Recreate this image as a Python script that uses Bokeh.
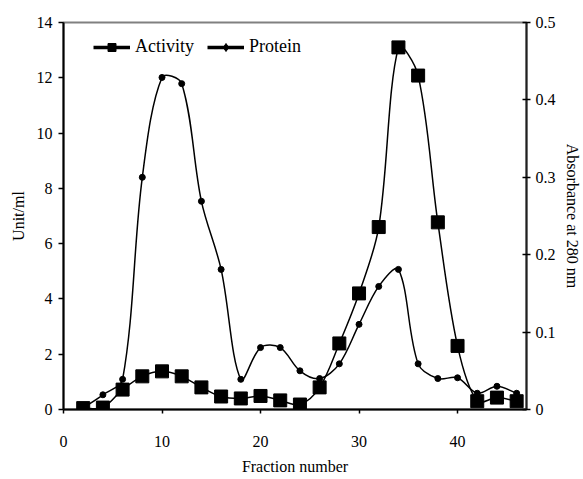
import math
from bokeh.plotting import figure
from bokeh.models import (Range1d, LinearAxis, FixedTicker, NumeralTickFormatter,
                          Legend, LegendItem, ColumnDataSource)
from bokeh.embed import file_html
from bokeh.resources import INLINE

# ---- data ----
fractions = [2, 4, 6, 8, 10, 12, 14, 16, 18, 20, 22, 24, 26, 28, 30, 32, 34, 36, 38, 40, 42, 44, 46]
activity = [0.05, 0.07, 0.72, 1.2, 1.38, 1.2, 0.8, 0.47, 0.4, 0.49, 0.33, 0.18,
            0.8, 2.39, 4.2, 6.6, 13.1, 12.08, 6.77, 2.3, 0.3, 0.43, 0.3]
protein = [0.002, 0.019, 0.039, 0.30, 0.429, 0.421, 0.269, 0.181, 0.039, 0.08, 0.08, 0.05,
           0.04, 0.059, 0.11, 0.159, 0.181, 0.059, 0.04, 0.041, 0.021, 0.03, 0.021]
x_ticks = [0, 10, 20, 30, 40]
left_ticks = [0, 2, 4, 6, 8, 10, 12, 14]
right_ticks = [0, 0.1, 0.2, 0.3, 0.4, 0.5]

FONT = "Liberation Serif"

W, H = 583, 479
BL, BR, BT, BB = 63, 55, 22, 70
FRAME_W = W - BL - BR
FRAME_H = H - BT - BB
X_MAX, Y_MAX, ABS_MAX = 47, 14, 0.5


def smooth_segments(xs, ys, sx, sy, t=1.0 / 3.0):
    """Bezier segments with length-weighted tangents (Excel-like smoothing)."""
    n = len(xs)
    d = dict(x0=[], y0=[], x1=[], y1=[], cx0=[], cy0=[], cx1=[], cy1=[])

    def dist(a, b):
        return math.hypot((xs[b] - xs[a]) * sx, (ys[b] - ys[a]) * sy)

    for i in range(n - 1):
        i0, i1, i2, i3 = max(i - 1, 0), i, i + 1, min(i + 2, n - 1)
        d01, d12, d23 = dist(i0, i1), dist(i1, i2), dist(i2, i3)
        f1 = t * d12 / (d01 + d12) if (d01 + d12) > 0 else 0
        f2 = t * d12 / (d12 + d23) if (d12 + d23) > 0 else 0
        d["x0"].append(xs[i1]); d["y0"].append(ys[i1])
        d["x1"].append(xs[i2]); d["y1"].append(ys[i2])
        d["cx0"].append(xs[i1] + f1 * (xs[i2] - xs[i0]))
        d["cy0"].append(ys[i1] + f1 * (ys[i2] - ys[i0]))
        d["cx1"].append(xs[i2] - f2 * (xs[i3] - xs[i1]))
        d["cy1"].append(ys[i2] - f2 * (ys[i3] - ys[i1]))
    return ColumnDataSource(d)


p = figure(width=W, height=H, output_backend="svg", toolbar_location=None,
           x_range=Range1d(0, X_MAX), y_range=Range1d(0, Y_MAX),
           min_border_left=BL, min_border_right=BR, min_border_top=BT, min_border_bottom=BB)
p.extra_y_ranges = {"abs": Range1d(0, ABS_MAX)}

p.grid.visible = False
p.outline_line_color = "#808080"
p.outline_line_width = 2
p.background_fill_color = "white"
p.border_fill_color = "white"


def style_axis(ax, tick_out, tick_in, label_standoff, title_standoff):
    ax.axis_line_color = "black"
    ax.axis_line_width = 2
    ax.major_tick_line_color = "black"
    ax.major_tick_line_width = 1.5
    ax.major_tick_out = tick_out
    ax.major_tick_in = tick_in
    ax.minor_tick_line_color = None
    ax.major_label_standoff = label_standoff
    ax.axis_label_standoff = title_standoff
    ax.major_label_text_font = FONT
    ax.major_label_text_font_size = "16px"
    ax.major_label_text_color = "black"
    ax.axis_label_text_font = FONT
    ax.axis_label_text_font_size = "16px"
    ax.axis_label_text_font_style = "normal"
    ax.axis_label_text_color = "black"


xa = p.xaxis[0]
xa.ticker = FixedTicker(ticks=x_ticks)
xa.axis_label = "Fraction number"
style_axis(xa, 4, 0, 22, 8)

ya = p.yaxis[0]
ya.ticker = FixedTicker(ticks=left_ticks)
ya.axis_label = "Unit/ml"
style_axis(ya, 5, 0, 6, 7)

ra = LinearAxis(y_range_name="abs", ticker=FixedTicker(ticks=right_ticks),
                formatter=NumeralTickFormatter(format="0.[0]"),
                axis_label="Absorbance at 280 nm")
style_axis(ra, 4, 4, 5, 5)
ra.axis_line_color = "#202020"
p.add_layout(ra, "right")

sx = FRAME_W / X_MAX
sy_left = FRAME_H / Y_MAX
sy_right = FRAME_H / ABS_MAX

# smoothed curves
p.bezier(x0="x0", y0="y0", x1="x1", y1="y1", cx0="cx0", cy0="cy0", cx1="cx1", cy1="cy1",
         source=smooth_segments(fractions, activity, sx, sy_left),
         line_color="black", line_width=1.5)
p.bezier(x0="x0", y0="y0", x1="x1", y1="y1", cx0="cx0", cy0="cy0", cx1="cx1", cy1="cy1",
         source=smooth_segments(fractions, protein, sx, sy_right),
         line_color="black", line_width=1.5, y_range_name="abs")

# markers
p.scatter(fractions, activity, marker="square", size=13,
          fill_color="black", line_color="black")
p.scatter(fractions, protein, marker="circle", size=6,
          fill_color="black", line_color="black", y_range_name="abs")

# legend samples: single-point lines draw nothing; single-point markers hide under the data markers
act_leg = p.line(x=fractions[:1], y=activity[:1], line_color="black", line_width=3.5)
prot_leg = p.line(x=fractions[:1], y=protein[:1], line_color="black", line_width=3.5,
                  y_range_name="abs")
act_leg_mk = p.scatter(x=fractions[:1], y=activity[:1], marker="square", size=10,
                       fill_color="black", line_color="black")
prot_leg_mk = p.scatter(x=fractions[:1], y=protein[:1], marker="diamond", size=7,
                        fill_color="black", line_color="black", y_range_name="abs")

legend = Legend(items=[LegendItem(label="Activity", renderers=[act_leg, act_leg_mk]),
                       LegendItem(label="Protein", renderers=[prot_leg, prot_leg_mk])],
                orientation="horizontal", location=(30, 352),
                margin=0, padding=0, spacing=13, glyph_width=37, glyph_height=20,
                label_standoff=5, border_line_color=None, background_fill_alpha=0,
                label_text_font=FONT, label_text_font_size="18px", label_text_color="black")
p.add_layout(legend)

open("out.html", "w").write(file_html(p, INLINE))
